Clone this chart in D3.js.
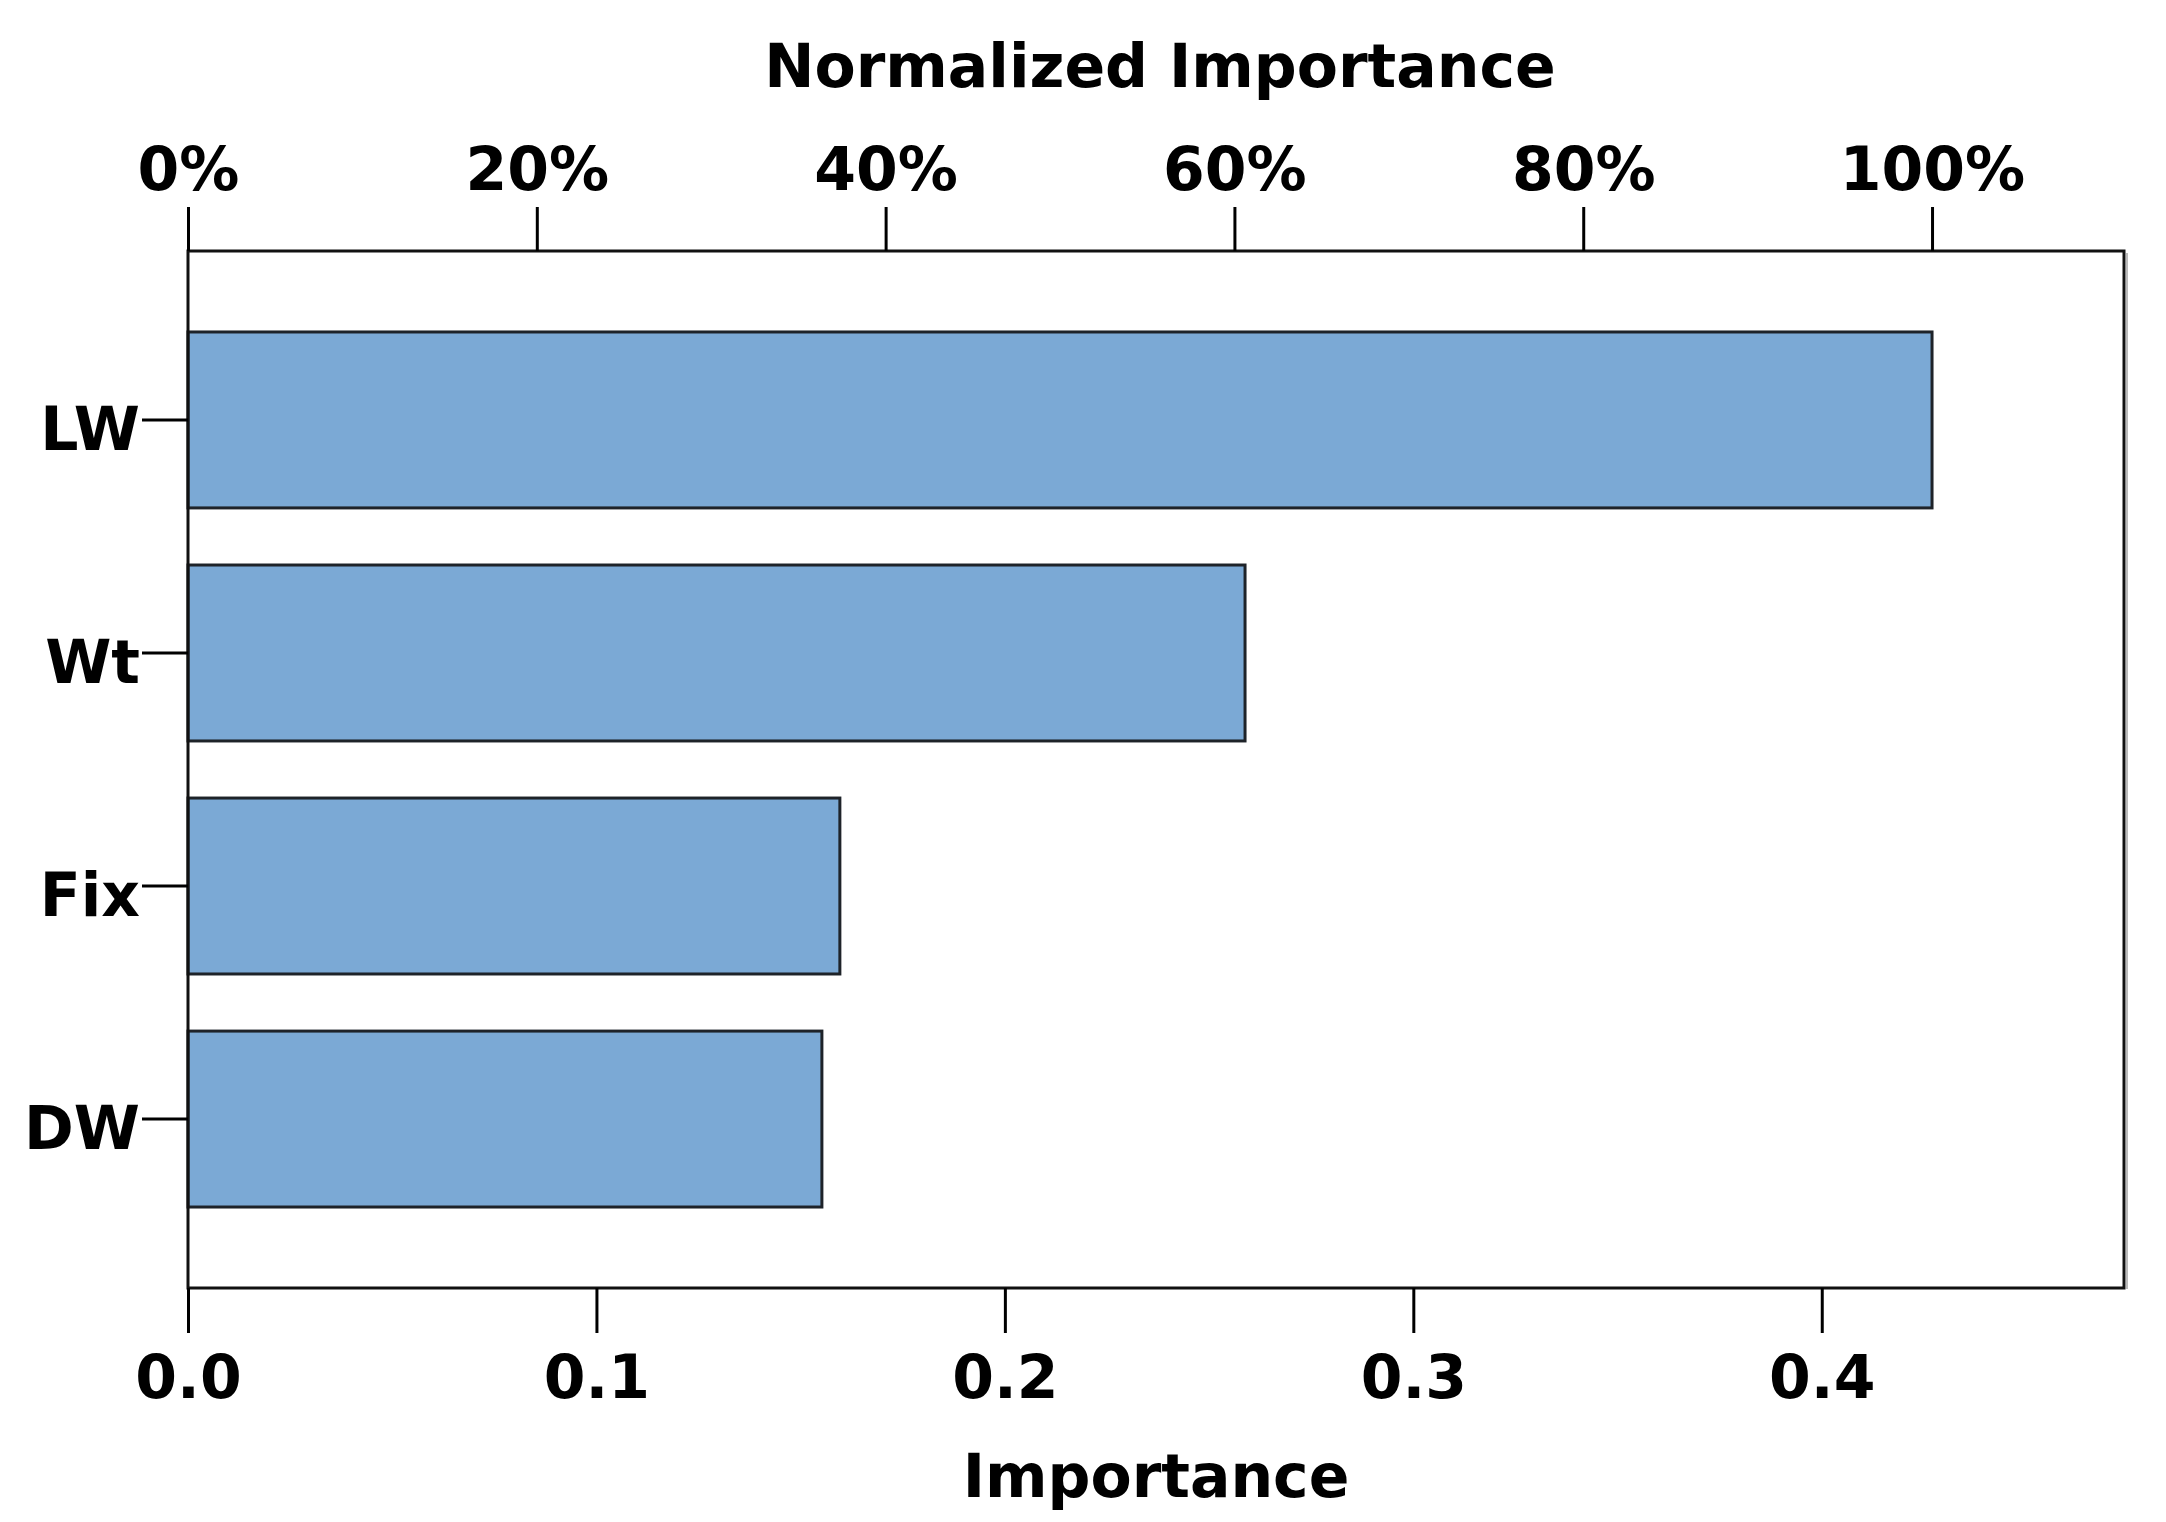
<!DOCTYPE html>
<html>
<head>
<meta charset="utf-8">
<script src="https://cdn.jsdelivr.net/npm/d3@7"></script>
<style>
  html, body { margin: 0; padding: 0; background: #fff; }
  text { font-family: "DejaVu Sans", sans-serif; font-weight: bold; fill: #000; }
</style>
</head>
<body>
<svg id="chart" width="2166" height="1522"></svg>
<script>
// data
const predictors = ["LW", "Wt", "Fix", "DW"];
const importance = [0.427, 0.2588, 0.1596, 0.1552];
const importanceTicks = [0.0, 0.1, 0.2, 0.3, 0.4];
const percentTicks = [0, 0.2, 0.4, 0.6, 0.8, 1.0];

const svg = d3.select("#chart");
const frame = { left: 188, right: 2124, top: 251, bottom: 1288 };
const fontSize = 60;

const x = d3.scaleLinear().domain([0, 0.474]).range([frame.left, frame.right]);
const maxImp = d3.max(importance);
const xPct = d3.scaleLinear().domain([0, 1]).range([x(0), x(maxImp)]);
const y = d3
  .scaleBand()
  .domain(predictors)
  .range([frame.top, frame.bottom])
  .paddingInner(0.245)
  .paddingOuter(0.3475);

const rows = predictors.map((p, i) => ({ name: p, value: importance[i] }));

// frame shadow on the right
svg
  .append("line")
  .attr("x1", frame.right + 3)
  .attr("x2", frame.right + 3)
  .attr("y1", frame.top + 2)
  .attr("y2", frame.bottom + 1)
  .attr("stroke", "#bbb")
  .attr("stroke-width", 2);

// bars
svg
  .append("g")
  .selectAll("rect")
  .data(rows)
  .join("rect")
  .attr("x", x(0))
  .attr("y", (d) => y(d.name))
  .attr("width", (d) => x(d.value) - x(0))
  .attr("height", y.bandwidth())
  .attr("fill", "#7ba9d5")
  .attr("stroke", "#1e2329")
  .attr("stroke-width", 3);

// frame
svg
  .append("rect")
  .attr("x", frame.left)
  .attr("y", frame.top)
  .attr("width", frame.right - frame.left)
  .attr("height", frame.bottom - frame.top)
  .attr("fill", "none")
  .attr("stroke", "#111")
  .attr("stroke-width", 3);

function styleAxis(g) {
  g.select(".domain").remove();
  g.selectAll(".tick line").attr("stroke", "#000").attr("stroke-width", 3);
  g.selectAll(".tick text")
    .attr("font-size", fontSize)
    .attr("font-family", "DejaVu Sans, sans-serif")
    .attr("font-weight", "bold")
    .attr("fill", "#000");
}

// bottom axis
svg
  .append("g")
  .attr("transform", `translate(0,${frame.bottom})`)
  .call(
    d3.axisBottom(x)
      .tickValues(importanceTicks)
      .tickFormat(d3.format(".1f"))
      .tickSize(45)
      .tickPadding(22)
  )
  .call(styleAxis);

// top axis
svg
  .append("g")
  .attr("transform", `translate(0,${frame.top})`)
  .call(
    d3.axisTop(xPct)
      .tickValues(percentTicks)
      .tickFormat(d3.format(".0%"))
      .tickSize(44)
      .tickPadding(17)
  )
  .call(styleAxis);

// left axis
svg
  .append("g")
  .attr("transform", `translate(${frame.left},0)`)
  .call(d3.axisLeft(y).tickSize(46).tickPadding(2))
  .call(styleAxis)
  .call((g) => g.selectAll(".tick text").attr("dy", "0.5em"));

// titles
svg
  .append("text")
  .attr("x", 1160)
  .attr("y", 87)
  .attr("text-anchor", "middle")
  .attr("font-size", fontSize)
  .text("Normalized Importance");

svg
  .append("text")
  .attr("x", 1156)
  .attr("y", 1497)
  .attr("text-anchor", "middle")
  .attr("font-size", fontSize)
  .text("Importance");
</script>
</body>
</html>
